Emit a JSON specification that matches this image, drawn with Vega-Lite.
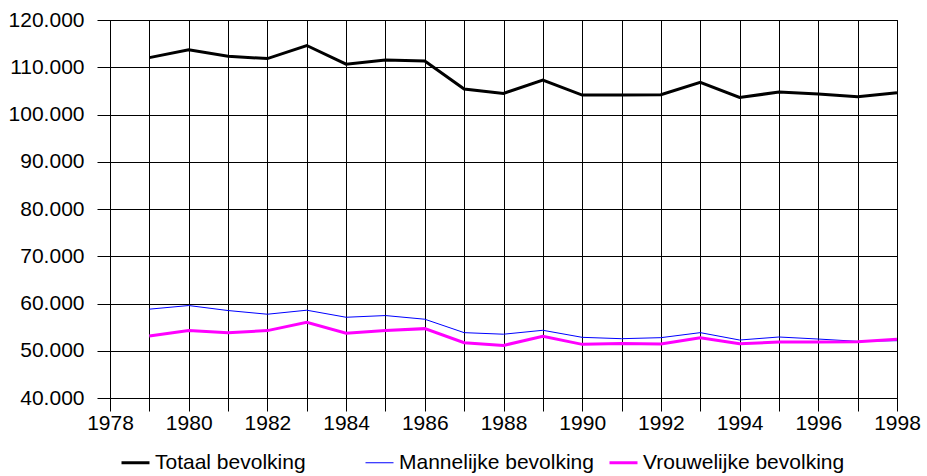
{
  "$schema": "https://vega.github.io/schema/vega-lite/v6.json",
  "width": 787,
  "height": 378,
  "autosize": {"type": "none"},
  "padding": {"left": 110, "top": 20, "right": 30, "bottom": 78},
  "background": "white",
  "config": {
    "locale": {"number": {"decimal": ",", "thousands": ".", "grouping": [3], "currency": ["€", ""]}},
    "font": "Liberation Sans",
    "view": {"stroke": "#000", "strokeWidth": 1}
  },
  "data": {
    "values": [
      {"year": 1979, "series": "Totaal bevolking", "value": 112040},
      {"year": 1980, "series": "Totaal bevolking", "value": 113680},
      {"year": 1981, "series": "Totaal bevolking", "value": 112340},
      {"year": 1982, "series": "Totaal bevolking", "value": 111830},
      {"year": 1983, "series": "Totaal bevolking", "value": 114600},
      {"year": 1984, "series": "Totaal bevolking", "value": 110640},
      {"year": 1985, "series": "Totaal bevolking", "value": 111550},
      {"year": 1986, "series": "Totaal bevolking", "value": 111340},
      {"year": 1987, "series": "Totaal bevolking", "value": 105380},
      {"year": 1988, "series": "Totaal bevolking", "value": 104470},
      {"year": 1989, "series": "Totaal bevolking", "value": 107300},
      {"year": 1990, "series": "Totaal bevolking", "value": 104110},
      {"year": 1991, "series": "Totaal bevolking", "value": 104110},
      {"year": 1992, "series": "Totaal bevolking", "value": 104170},
      {"year": 1993, "series": "Totaal bevolking", "value": 106810},
      {"year": 1994, "series": "Totaal bevolking", "value": 103620},
      {"year": 1995, "series": "Totaal bevolking", "value": 104740},
      {"year": 1996, "series": "Totaal bevolking", "value": 104320},
      {"year": 1997, "series": "Totaal bevolking", "value": 103740},
      {"year": 1998, "series": "Totaal bevolking", "value": 104600},
      {"year": 1979, "series": "Mannelijke bevolking", "value": 58800},
      {"year": 1980, "series": "Mannelijke bevolking", "value": 59570},
      {"year": 1981, "series": "Mannelijke bevolking", "value": 58510},
      {"year": 1982, "series": "Mannelijke bevolking", "value": 57730},
      {"year": 1983, "series": "Mannelijke bevolking", "value": 58580},
      {"year": 1984, "series": "Mannelijke bevolking", "value": 57090},
      {"year": 1985, "series": "Mannelijke bevolking", "value": 57450},
      {"year": 1986, "series": "Mannelijke bevolking", "value": 56670},
      {"year": 1987, "series": "Mannelijke bevolking", "value": 53830},
      {"year": 1988, "series": "Mannelijke bevolking", "value": 53500},
      {"year": 1989, "series": "Mannelijke bevolking", "value": 54330},
      {"year": 1990, "series": "Mannelijke bevolking", "value": 52840},
      {"year": 1991, "series": "Mannelijke bevolking", "value": 52550},
      {"year": 1992, "series": "Mannelijke bevolking", "value": 52770},
      {"year": 1993, "series": "Mannelijke bevolking", "value": 53830},
      {"year": 1994, "series": "Mannelijke bevolking", "value": 52270},
      {"year": 1995, "series": "Mannelijke bevolking", "value": 52910},
      {"year": 1996, "series": "Mannelijke bevolking", "value": 52480},
      {"year": 1997, "series": "Mannelijke bevolking", "value": 51990},
      {"year": 1998, "series": "Mannelijke bevolking", "value": 52130},
      {"year": 1979, "series": "Vrouwelijke bevolking", "value": 53120},
      {"year": 1980, "series": "Vrouwelijke bevolking", "value": 54260},
      {"year": 1981, "series": "Vrouwelijke bevolking", "value": 53830},
      {"year": 1982, "series": "Vrouwelijke bevolking", "value": 54260},
      {"year": 1983, "series": "Vrouwelijke bevolking", "value": 56030},
      {"year": 1984, "series": "Vrouwelijke bevolking", "value": 53690},
      {"year": 1985, "series": "Vrouwelijke bevolking", "value": 54260},
      {"year": 1986, "series": "Vrouwelijke bevolking", "value": 54680},
      {"year": 1987, "series": "Vrouwelijke bevolking", "value": 51700},
      {"year": 1988, "series": "Vrouwelijke bevolking", "value": 51130},
      {"year": 1989, "series": "Vrouwelijke bevolking", "value": 53050},
      {"year": 1990, "series": "Vrouwelijke bevolking", "value": 51350},
      {"year": 1991, "series": "Vrouwelijke bevolking", "value": 51560},
      {"year": 1992, "series": "Vrouwelijke bevolking", "value": 51420},
      {"year": 1993, "series": "Vrouwelijke bevolking", "value": 52770},
      {"year": 1994, "series": "Vrouwelijke bevolking", "value": 51490},
      {"year": 1995, "series": "Vrouwelijke bevolking", "value": 51840},
      {"year": 1996, "series": "Vrouwelijke bevolking", "value": 51840},
      {"year": 1997, "series": "Vrouwelijke bevolking", "value": 51910},
      {"year": 1998, "series": "Vrouwelijke bevolking", "value": 52410}
    ]
  },
  "encoding": {
    "x": {
      "field": "year",
      "type": "quantitative",
      "scale": {"domain": [1978, 1998], "nice": false, "zero": false},
      "axis": {
        "title": null,
        "values": [1978,1979,1980,1981,1982,1983,1984,1985,1986,1987,1988,1989,1990,1991,1992,1993,1994,1995,1996,1997,1998],
        "labelExpr": "datum.value % 2 === 0 ? format(datum.value, 'd') : ''",
        "labelOverlap": false,
        "labelFlush": false,
        "labelFont": "Liberation Sans",
        "labelFontSize": 21,
        "labelColor": "#000",
        "labelPadding": 1,
        "tickSize": 13,
        "tickColor": "#000",
        "domainColor": "#000",
        "grid": true,
        "gridColor": "#000",
        "gridOpacity": 1,
        "gridWidth": 1
      }
    },
    "y": {
      "field": "value",
      "type": "quantitative",
      "scale": {"domain": [40000, 120000], "nice": false, "zero": false},
      "axis": {
        "title": null,
        "values": [40000,50000,60000,70000,80000,90000,100000,110000,120000],
        "format": ",.0f",
        "labelFont": "Liberation Sans",
        "labelFontSize": 21,
        "labelColor": "#000",
        "labelPadding": 13,
        "tickSize": 13,
        "tickColor": "#000",
        "domainColor": "#000",
        "grid": true,
        "gridColor": "#000",
        "gridOpacity": 1,
        "gridWidth": 1
      }
    },
    "color": {
      "field": "series",
      "type": "nominal",
      "scale": {
        "domain": ["Totaal bevolking", "Mannelijke bevolking", "Vrouwelijke bevolking"],
        "range": ["#000000", "#0000FF", "#FF00FF"]
      },
      "legend": {
        "title": null,
        "orient": "none",
        "legendX": 15,
        "legendY": 432,
        "direction": "horizontal",
        "gridAlign": "all",
        "columnPadding": 2,
        "symbolType": "stroke",
        "symbolSize": 784,
        "symbolStrokeWidth": 3,
        "labelFont": "Liberation Sans",
        "labelFontSize": 21,
        "labelColor": "#000",
        "labelOffset": 9,
        "labelLimit": 400,
        "encode": {
          "symbols": {"update": {"strokeWidth": {"signal": "datum.value === 'Mannelijke bevolking' ? 1 : 3"}}}
        }
      }
    }
  },
  "layer": [
    {
      "transform": [{"filter": "datum.series === 'Mannelijke bevolking'"}],
      "mark": {"type": "line", "strokeWidth": 1, "strokeJoin": "miter"}
    },
    {
      "transform": [{"filter": "datum.series !== 'Mannelijke bevolking'"}],
      "mark": {"type": "line", "strokeWidth": 3, "strokeJoin": "miter"}
    }
  ]
}
